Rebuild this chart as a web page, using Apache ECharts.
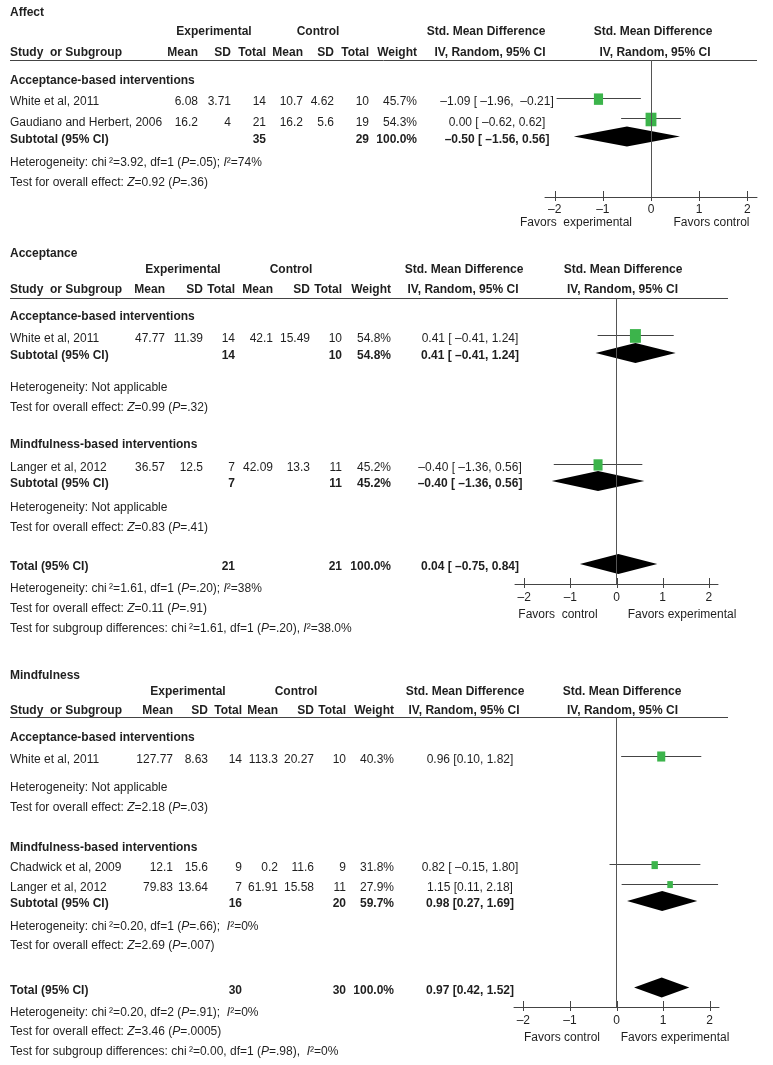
<!DOCTYPE html>
<html><head><meta charset="utf-8">
<script src="https://cdn.jsdelivr.net/npm/echarts@6/dist/echarts.min.js"></script>
<style>html,body{margin:0;padding:0;background:#fff}#c{width:773px;height:1065px}</style>
</head><body><div id="c"></div><script>
// ================= DATA =================
// ---- Affect ----
const affectStudy   = ['White et al, 2011', 'Gaudiano and Herbert, 2006'];
const affectExpMean = [6.08, 16.2];
const affectExpSD   = [3.71, 4];
const affectExpN    = [14, 21];
const affectCtlMean = [10.7, 16.2];
const affectCtlSD   = [4.62, 5.6];
const affectCtlN    = [10, 19];
const affectWeight  = [45.7, 54.3];
const affectSMD     = [-1.09, 0.00];
const affectLow     = [-1.96, -0.62];
const affectHigh    = [-0.21, 0.62];
// pooled rows: [expN, ctlN, weight, smd, low, high]
const affectPooled  = [[35, 29, 100.0, -0.50, -1.56, 0.56]];
const affectNotes = [
  'Heterogeneity: chi\u2009²=3.92, df=1 ({i|P}=.05); {i|I}²=74%',
  'Test for overall effect: {i|Z}=0.92 ({i|P}=.36)'
];
// ---- Acceptance ----
const accStudy   = ['White et al, 2011', 'Langer et al, 2012'];
const accExpMean = [47.77, 36.57];
const accExpSD   = [11.39, 12.5];
const accExpN    = [14, 7];
const accCtlMean = [42.1, 42.09];
const accCtlSD   = [15.49, 13.3];
const accCtlN    = [10, 11];
const accWeight  = [54.8, 45.2];
const accSMD     = [0.41, -0.40];
const accLow     = [-0.41, -1.36];
const accHigh    = [1.24, 0.56];
const accPooled  = [[14, 10, 54.8, 0.41, -0.41, 1.24], [7, 11, 45.2, -0.40, -1.36, 0.56], [21, 21, 100.0, 0.04, -0.75, 0.84]];
const accNotes = [
  'Heterogeneity: Not applicable',
  'Test for overall effect: {i|Z}=0.99 ({i|P}=.32)',
  'Heterogeneity: Not applicable',
  'Test for overall effect: {i|Z}=0.83 ({i|P}=.41)',
  'Heterogeneity: chi\u2009²=1.61, df=1 ({i|P}=.20); {i|I}²=38%',
  'Test for overall effect: {i|Z}=0.11 ({i|P}=.91)',
  'Test for subgroup differences: chi\u2009²=1.61, df=1 ({i|P}=.20), {i|I}²=38.0%'
];
// ---- Mindfulness ----
const mindStudy   = ['White et al, 2011', 'Chadwick et al, 2009', 'Langer et al, 2012'];
const mindExpMean = [127.77, 12.1, 79.83];
const mindExpSD   = [8.63, 15.6, 13.64];
const mindExpN    = [14, 9, 7];
const mindCtlMean = [113.3, 0.2, 61.91];
const mindCtlSD   = [20.27, 11.6, 15.58];
const mindCtlN    = [10, 9, 11];
const mindWeight  = [40.3, 31.8, 27.9];
const mindSMD     = [0.96, 0.82, 1.15];
const mindLow     = [0.10, -0.15, 0.11];
const mindHigh    = [1.82, 1.80, 2.18];
const mindPooled  = [[16, 20, 59.7, 0.98, 0.27, 1.69], [30, 30, 100.0, 0.97, 0.42, 1.52]];
const mindNotes = [
  'Heterogeneity: Not applicable',
  'Test for overall effect: {i|Z}=2.18 ({i|P}=.03)',
  'Heterogeneity: chi\u2009²=0.20, df=1 ({i|P}=.66);  {i|I}²=0%',
  'Test for overall effect: {i|Z}=2.69 ({i|P}=.007)',
  'Heterogeneity: chi\u2009²=0.20, df=2 ({i|P}=.91);  {i|I}²=0%',
  'Test for overall effect: {i|Z}=3.46 ({i|P}=.0005)',
  'Test for subgroup differences: chi\u2009²=0.00, df=1 ({i|P}=.98),  {i|I}²=0%'
];
const tickValues = [-2, -1, 0, 1, 2];
const colHeaders = ['Mean', 'SD', 'Total', 'Mean', 'SD', 'Total', 'Weight'];

// ================= STRUCTURE & LAYOUT =================
const panels = [
  {
    title: 'Affect', study: affectStudy, em: affectExpMean, esd: affectExpSD, en: affectExpN,
    cm: affectCtlMean, csd: affectCtlSD, cn: affectCtlN, w: affectWeight, smd: affectSMD,
    low: affectLow, high: affectHigh, pooled: affectPooled, notes: affectNotes,
    favL: 'Favors  experimental', favR: 'Favors control',
    rows: [['group', 'Acceptance-based interventions', 0.89], ['study', 0, 2.00], ['study', 1, 3.04],
           ['pool', 0, 3.91, 'Subtotal (95% CI)'], ['note', 0, 5.11], ['note', 1, 6.11]],
    L: { titleY: 13, expY: 32, headY: 52.5, top: 60, height: 137, yMax: 7, left: 545, width: 212, lineX2: 757,
         cols: [198, 231, 266, 303, 334, 369, 417], expX: 214, ctlX: 318, smdX: 486, ivX: 490, plotX: 653, plotIvX: 655,
         ciX: 497, margin: 7, favY: 222.5, favLX: 576, favRX: 711.5 }
  },
  {
    title: 'Acceptance', study: accStudy, em: accExpMean, esd: accExpSD, en: accExpN,
    cm: accCtlMean, csd: accCtlSD, cn: accCtlN, w: accWeight, smd: accSMD,
    low: accLow, high: accHigh, pooled: accPooled, notes: accNotes,
    favL: 'Favors  control', favR: 'Favors experimental',
    rows: [['group', 'Acceptance-based interventions', 0.80], ['study', 0, 1.95], ['pool', 0, 2.83, 'Subtotal (95% CI)'],
           ['note', 0, 4.47], ['note', 1, 5.47], ['group', 'Mindfulness-based interventions', 7.40], ['study', 1, 8.58],
           ['pool', 1, 9.40, 'Subtotal (95% CI)'], ['note', 2, 10.64], ['note', 3, 11.64], ['pool', 2, 13.67, 'Total (95% CI)'],
           ['note', 4, 14.80], ['note', 5, 15.80], ['note', 6, 16.83]],
    L: { titleY: 254, expY: 270, headY: 289.5, top: 298, height: 286, yMax: 14.7, left: 515, width: 203, lineX2: 728,
         cols: [165, 203, 235, 273, 310, 342, 391], expX: 183, ctlX: 291, smdX: 464, ivX: 463, plotX: 623, plotIvX: 622.5,
         ciX: 470, margin: 8, favY: 615, favLX: 558, favRX: 682 }
  },
  {
    title: 'Mindfulness', study: mindStudy, em: mindExpMean, esd: mindExpSD, en: mindExpN,
    cm: mindCtlMean, csd: mindCtlSD, cn: mindCtlN, w: mindWeight, smd: mindSMD,
    low: mindLow, high: mindHigh, pooled: mindPooled, notes: mindNotes,
    favL: 'Favors control', favR: 'Favors experimental',
    rows: [['group', 'Acceptance-based interventions', 0.92], ['study', 0, 2.03], ['note', 0, 3.49], ['note', 1, 4.50],
           ['group', 'Mindfulness-based interventions', 6.58], ['study', 1, 7.61], ['study', 2, 8.61],
           ['pool', 0, 9.46, 'Subtotal (95% CI)'], ['note', 2, 10.61], ['note', 3, 11.59], ['pool', 1, 13.90, 'Total (95% CI)'],
           ['note', 4, 15.03], ['note', 5, 16.03], ['note', 6, 17.04]],
    L: { titleY: 676, expY: 692, headY: 710.5, top: 717, height: 290, yMax: 14.9, left: 514, width: 205, lineX2: 728,
         cols: [173, 208, 242, 278, 314, 346, 394], expX: 188, ctlX: 296, smdX: 465, ivX: 464, plotX: 622, plotIvX: 622.5,
         ciX: 470, margin: 8, favY: 1038, favLX: 562, favRX: 675 }
  }
];

// ================= HELPERS =================
const FONT = "'Liberation Sans', Arial, Helvetica, sans-serif";
const FS = 12;
const INK = '#1f1f1f';
const GREEN = '#3cb44b';
const minus = v => (v < 0 ? '\u2013' + Math.abs(v).toFixed(2) : v.toFixed(2));
const ciText = (e, lo, hi) => minus(e) + ' [' + (lo < 0 ? ' ' : '') + minus(lo) + ', ' + (hi < 0 ? ' ' : '') + minus(hi) + ']';
function txt(x, y, text, align, bold) {
  const st = { text: String(text), fill: INK, fontSize: FS, fontFamily: FONT, fontWeight: bold ? 'bold' : 'normal',
    align: align, textAlign: align, verticalAlign: 'middle', textVerticalAlign: 'middle',
    rich: { i: { fontStyle: 'italic', fontSize: FS, fontFamily: FONT, fill: INK } } };
  return { type: 'text', x: x, y: y, silent: true, style: st };
}
function hline(x1, x2, y) {
  return { type: 'line', silent: true, shape: { x1: x1, y1: y + 0.5, x2: x2, y2: y + 0.5 }, style: { stroke: '#444', lineWidth: 1 } };
}

const grids = [], xAxes = [], yAxes = [], series = [], gfx = [];

panels.forEach((P, i) => {
  const L = P.L;
  const unit = L.height / L.yMax;
  grids.push({ left: L.left, top: L.top, width: L.width, height: L.height, containLabel: false, outerBoundsMode: 'none' });
  xAxes.push({
    gridIndex: i, type: 'value', min: -2.2, max: 2.2, position: 'bottom',
    axisLine: { show: true, onZero: false, lineStyle: { color: '#444', width: 1 } },
    axisTick: { show: false },
    axisLabel: { show: true, customValues: tickValues, margin: L.margin, color: INK, fontSize: FS, fontFamily: FONT,
      formatter: v => (v < 0 ? '\u2013' + Math.abs(v) : String(v)) },
    splitLine: { show: false }
  });
  yAxes.push({ gridIndex: i, type: 'value', inverse: true, min: 0, max: L.yMax, show: false });

  // headers
  gfx.push(txt(10, L.titleY, P.title, 'left', true));
  gfx.push(txt(L.expX, L.expY, 'Experimental', 'center', true));
  gfx.push(txt(L.ctlX, L.expY, 'Control', 'center', true));
  gfx.push(txt(L.smdX, L.expY, 'Std. Mean Difference', 'center', true));
  gfx.push(txt(L.plotX, L.expY, 'Std. Mean Difference', 'center', true));
  gfx.push(txt(10, L.headY, 'Study  or Subgroup', 'left', true));
  colHeaders.forEach((h, k) => gfx.push(txt(L.cols[k], L.headY, h, 'right', true)));
  gfx.push(txt(L.ivX, L.headY, 'IV, Random, 95% CI', 'center', true));
  gfx.push(txt(L.plotIvX, L.headY, 'IV, Random, 95% CI', 'center', true));
  gfx.push(hline(10, L.lineX2, L.top));
  gfx.push(txt(L.favLX, L.favY, P.favL, 'center', false));
  gfx.push(txt(L.favRX, L.favY, P.favR, 'center', false));

  const studyData = [], poolData = [];
  P.rows.forEach(r => {
    const ty = L.top + r[2] * unit + 3;
    if (r[0] === 'group') {
      gfx.push(txt(10, ty, r[1], 'left', true));
    } else if (r[0] === 'study') {
      const k = r[1];
      gfx.push(txt(10, ty, P.study[k], 'left', false));
      const vals = [P.em[k], P.esd[k], P.en[k], P.cm[k], P.csd[k], P.cn[k], P.w[k].toFixed(1) + '%'];
      vals.forEach((v, c) => gfx.push(txt(L.cols[c], ty, v, 'right', false)));
      gfx.push(txt(L.ciX, ty, ciText(P.smd[k], P.low[k], P.high[k]), 'center', false));
      studyData.push([P.smd[k], P.low[k], P.high[k], P.w[k], r[2]]);
    } else if (r[0] === 'pool') {
      const p = P.pooled[r[1]];
      gfx.push(txt(10, ty, r[3], 'left', true));
      gfx.push(txt(L.cols[2], ty, p[0], 'right', true));
      gfx.push(txt(L.cols[5], ty, p[1], 'right', true));
      gfx.push(txt(L.cols[6], ty, p[2].toFixed(1) + '%', 'right', true));
      gfx.push(txt(L.ciX, ty, ciText(p[3], p[4], p[5]), 'center', true));
      poolData.push([p[3], p[4], p[5], r[2]]);
    } else if (r[0] === 'note') {
      gfx.push(txt(10, ty, P.notes[r[1]], 'left', false));
    }
  });

  // studies: CI whisker + weighted square; carries the zero (no-effect) line
  series.push({
    type: 'custom', xAxisIndex: i, yAxisIndex: i, data: studyData, silent: true, clip: false,
    renderItem: (params, api) => {
      const e = api.value(0), lo = api.value(1), hi = api.value(2), w = api.value(3), r = api.value(4);
      const c = api.coord([e, r]), a = api.coord([lo, r]), b = api.coord([hi, r]);
      const sw = w * 0.2, sh = w * 0.25;
      const ly = Math.round(c[1] - 1) + 0.5;
      return { type: 'group', children: [
        { type: 'line', shape: { x1: a[0], y1: ly, x2: b[0], y2: ly }, style: { stroke: '#444', lineWidth: 1 } },
        { type: 'rect', shape: { x: c[0] - sw / 2, y: c[1] - sh / 2, width: sw, height: sh }, style: { fill: GREEN } }
      ] };
    },
    markLine: { silent: true, symbol: ['none', 'none'], label: { show: false }, animation: false,
      lineStyle: { color: '#555', width: 1, type: 'solid' }, data: [{ xAxis: 0 }] },
    z: 3
  });
  // pooled estimates: diamonds
  series.push({
    type: 'custom', xAxisIndex: i, yAxisIndex: i, data: poolData, silent: true, clip: false,
    renderItem: (params, api) => {
      const e = api.value(0), lo = api.value(1), hi = api.value(2), r = api.value(3);
      const c = api.coord([e, r]), a = api.coord([lo, r]), b = api.coord([hi, r]);
      const h = 10;
      return { type: 'polygon', shape: { points: [[a[0] - 2, c[1]], [c[0], c[1] - h], [b[0] + 2, c[1]], [c[0], c[1] + h]] },
        style: { fill: '#000' } };
    },
    z: 4
  });
  // axis ticks crossing the axis line at the tick values
  series.push({
    type: 'custom', xAxisIndex: i, yAxisIndex: i, data: tickValues.map(v => [v, L.yMax]), silent: true, clip: false,
    renderItem: (params, api) => {
      const c = api.coord([api.value(0), api.value(1)]);
      const x = Math.round(c[0]) + 0.5;
      return { type: 'line', shape: { x1: x, y1: c[1] - 6, x2: x, y2: c[1] + 4 }, style: { stroke: '#444', lineWidth: 1 } };
    },
    z: 2
  });
});

const chart = echarts.init(document.getElementById('c'), null, { renderer: 'canvas', width: 773, height: 1065 });
chart.setOption({
  animation: false,
  backgroundColor: '#fff',
  grid: grids, xAxis: xAxes, yAxis: yAxes, series: series,
  graphic: { elements: gfx }
});
</script></body></html>
